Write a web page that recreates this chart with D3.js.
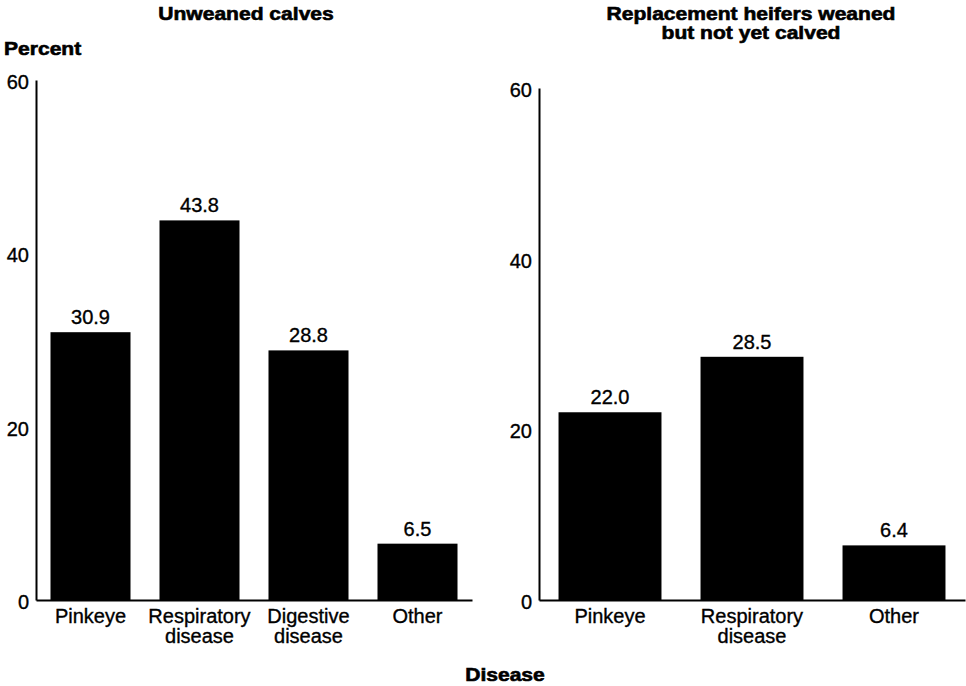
<!DOCTYPE html>
<html>
<head>
<meta charset="utf-8">
<script src="https://cdn.jsdelivr.net/npm/d3@7/dist/d3.min.js"></script>
<style>
  html, body { margin: 0; padding: 0; background: #fff; }
  svg { display: block; font-family: "Liberation Sans", Arial, sans-serif; }
  .txt { fill: #000; stroke: #000; stroke-width: 0.35px; }
  .head { fill: #000; stroke: #000; stroke-width: 0.6px; }
</style>
</head>
<body>
<svg id="chart" width="966" height="686"></svg>
<script>
// Disease categories and percentages for each animal class
const calfCategories = [["Pinkeye"], ["Respiratory", "disease"], ["Digestive", "disease"], ["Other"]];
const calfValues = [30.9, 43.8, 28.8, 6.5];
const heiferCategories = [["Pinkeye"], ["Respiratory", "disease"], ["Other"]];
const heiferValues = [22.0, 28.5, 6.4];
const yTicks = [0, 20, 40, 60];
const panelTitles = [["Unweaned calves"], ["Replacement heifers weaned", "but not yet calved"]];

const svg = d3.select("#chart");

// Bold headings use a slightly widened face
const WIDEN = 1.17;

function drawPanel(cfg) {
  const g = svg.append("g");
  const data = cfg.cats.map((c, i) => ({ key: c.join(" "), lines: c, value: cfg.values[i] }));

  const x = d3.scaleBand()
    .domain(data.map(d => d.key))
    .range([cfg.x0, cfg.x1])
    .paddingInner(cfg.padIn)
    .paddingOuter(cfg.padIn / 2);

  const y = d3.scaleLinear().domain([0, 60]).range([600, cfg.yTop]);

  // Bars
  g.selectAll("rect.bar").data(data).join("rect")
    .attr("class", "bar")
    .attr("x", d => x(d.key))
    .attr("width", x.bandwidth())
    .attr("y", d => y(d.value))
    .attr("height", d => y(0) - y(d.value))
    .attr("fill", "#000");

  // Value labels above bars
  g.selectAll("text.val").data(data).join("text")
    .attr("class", "val txt")
    .attr("x", d => x(d.key) + x.bandwidth() / 2)
    .attr("y", d => y(d.value) - 8)
    .attr("text-anchor", "middle")
    .attr("font-size", 20)
    .text(d => d.value.toFixed(1));

  // Y axis: line and labels, no tick marks
  const yAxis = d3.axisLeft(y).tickValues(yTicks).tickSize(0).tickPadding(7);
  const ya = g.append("g").attr("transform", `translate(${cfg.x0},0)`).call(yAxis);
  ya.select(".domain").attr("stroke", "#000").attr("stroke-width", 2);
  ya.selectAll("text").attr("class", "txt").attr("font-size", 20)
    .attr("font-family", "Liberation Sans, Arial, sans-serif").attr("dy", "0.42em");

  // X axis baseline with category labels
  const xAxis = d3.axisBottom(x).tickSize(0).tickFormat("");
  const xa = g.append("g").attr("transform", "translate(0,600)").call(xAxis);
  xa.select(".domain").attr("stroke", "#000").attr("stroke-width", 2);

  const lbl = g.selectAll("text.cat").data(data).join("text")
    .attr("class", "cat txt")
    .attr("text-anchor", "middle")
    .attr("font-size", 20)
    .attr("y", 623);
  lbl.selectAll("tspan").data(d => d.lines.map(l => ({ l, cx: x(d.key) + x.bandwidth() / 2 })))
    .join("tspan")
    .attr("x", d => d.cx)
    .attr("dy", (d, i) => i === 0 ? 0 : 20)
    .text(d => d.l);

  // Panel title
  const tg = svg.append("g")
    .attr("transform", `translate(${cfg.titleX},0) scale(${WIDEN},1)`);
  const t = tg.append("text")
    .attr("class", "head")
    .attr("text-anchor", "middle")
    .attr("font-size", 18)
    .attr("font-weight", "bold")
    .attr("y", cfg.titleY);
  t.selectAll("tspan").data(cfg.title).join("tspan")
    .attr("x", 0)
    .attr("dy", (d, i) => i === 0 ? 0 : 19)
    .text(d => d);
}

drawPanel({ cats: calfCategories, values: calfValues, x0: 36, x1: 472, padIn: 0.266, yTop: 80, title: panelTitles[0], titleX: 246, titleY: 20 });
drawPanel({ cats: heiferCategories, values: heiferValues, x0: 539, x1: 965, padIn: 0.275, yTop: 88, title: panelTitles[1], titleX: 751, titleY: 20 });

// Shared axis titles
svg.append("g").attr("transform", `translate(4,0) scale(${WIDEN},1)`)
  .append("text").attr("class", "head").attr("x", 0).attr("y", 55)
  .attr("font-size", 18).attr("font-weight", "bold").text("Percent");
svg.append("g").attr("transform", `translate(505,0) scale(${WIDEN},1)`)
  .append("text").attr("class", "head").attr("x", 0).attr("y", 681).attr("text-anchor", "middle")
  .attr("font-size", 18).attr("font-weight", "bold").text("Disease");
</script>
</body>
</html>
